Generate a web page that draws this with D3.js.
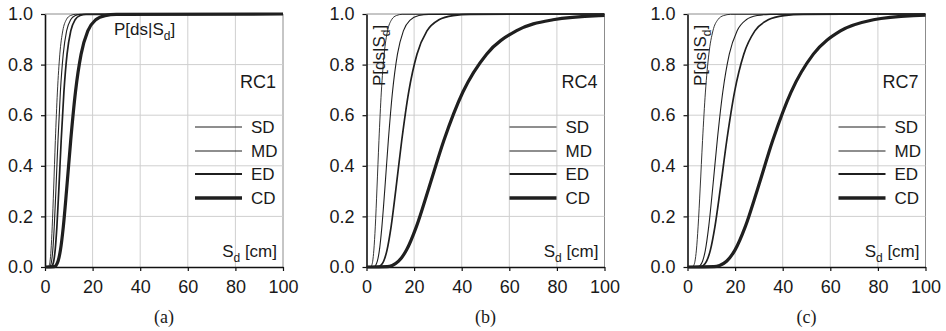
<!DOCTYPE html>
<html>
<head>
<meta charset="utf-8">
<script src="https://cdn.jsdelivr.net/npm/d3@7"></script>
<style>
  body { margin: 0; background: #fff; }
  svg { display: block; }
  .tick text { font-family: "Liberation Sans", Arial, sans-serif; font-size: 18px; fill: #1a1a1a; }
  .lbl { font-family: "Liberation Sans", Arial, sans-serif; font-size: 17px; fill: #1a1a1a; }
  .cap { font-family: "Liberation Serif", "Times New Roman", serif; font-size: 18px; fill: #1a1a1a; }
</style>
</head>
<body>
<svg id="chart" width="946" height="331"></svg>
<script>
// probability levels shared by every curve, and the Sd [cm] read at each level
const levels = [0, 0.0013, 0.0062, 0.0228, 0.0668, 0.1587, 0.3085, 0.5, 0.6915, 0.8413, 0.9332, 0.9772, 0.9938, 0.9987, 1];

const damageStates = ["SD", "MD", "ED", "CD"];
const panelNames = ["RC1", "RC4", "RC7"];
const panelCaptions = ["(a)", "(b)", "(c)"];
const xTicks = [0, 20, 40, 60, 80, 100];
const yTicks = [0, 0.2, 0.4, 0.6, 0.8, 1.0];

const rc1 = [
    [0, 1.48, 1.77, 2.12, 2.53, 3.03, 3.63, 4.35, 5.21, 6.23, 7.46, 8.94, 10.70, 12.81, 100],
    [0, 1.97, 2.33, 2.76, 3.27, 3.88, 4.60, 5.45, 6.46, 7.66, 9.08, 10.76, 12.75, 15.11, 100],
    [0, 2.68, 3.13, 3.66, 4.27, 4.99, 5.82, 6.80, 7.94, 9.27, 10.83, 12.64, 14.76, 17.23, 100],
    [0, 3.89, 4.62, 5.47, 6.49, 7.69, 9.11, 10.80, 12.80, 15.17, 17.99, 21.32, 25.27, 29.95, 100]
];
const rc4 = [
    [0, 1.83, 2.18, 2.60, 3.09, 3.69, 4.39, 5.23, 6.23, 7.42, 8.84, 10.53, 12.55, 14.95, 100],
    [0, 3.21, 3.82, 4.55, 5.43, 6.46, 7.70, 9.17, 10.92, 13.01, 15.50, 18.47, 22.00, 26.20, 100],
    [0, 5.03, 6.02, 7.20, 8.62, 10.33, 12.36, 14.80, 17.72, 21.21, 25.40, 30.41, 36.40, 43.58, 100],
    [0, 8.68, 10.82, 13.48, 16.80, 20.93, 26.08, 32.50, 40.50, 50.46, 62.88, 78.35, 97.64, 121.7, 160]
];
const rc7 = [
    [0, 2.21, 2.63, 3.14, 3.74, 4.45, 5.31, 6.32, 7.53, 8.97, 10.68, 12.73, 15.16, 18.06, 100],
    [0, 4.51, 5.34, 6.33, 7.51, 8.90, 10.55, 12.50, 14.82, 17.56, 20.82, 24.67, 29.25, 34.67, 100],
    [0, 5.60, 6.71, 8.03, 9.61, 11.51, 13.78, 16.50, 19.75, 23.65, 28.31, 33.90, 40.58, 48.59, 100],
    [0, 11.11, 13.50, 16.41, 19.94, 24.24, 29.46, 35.80, 43.51, 52.88, 64.26, 78.10, 94.91, 115.3, 160]
];
const panelData = [rc1, rc4, rc7];

// styling
const curveWidths = [0.9, 1.1, 1.7, 3.2];
const legendWidths = [1, 1.1, 2, 3.6];
const ink = "#1f1f1f";

const size = { w: 238, h: 253, top: 14 };
const panelLeft = [45, 366.5, 687.5];
const legendX = [150, 143, 151];
const legendY = [127, 151, 174, 198];

const svg = d3.select("#chart");

const x = d3.scaleLinear().domain([0, 100]).range([0, size.w]);
const y = d3.scaleLinear().domain([0, 1]).range([size.h, 0]);

const line = d3.line()
    .x(d => x(d[0]))
    .y(d => y(d[1]))
    .curve(d3.curveMonotoneX);

panelData.forEach((curves, i) => {
    const g = svg.append("g").attr("transform", `translate(${panelLeft[i]},${size.top})`);

    const clipId = "clip" + i;
    g.append("clipPath").attr("id", clipId)
        .append("rect").attr("x", 0).attr("y", -6).attr("width", size.w).attr("height", size.h + 12);

    // grid
    g.append("g").selectAll("line")
        .data(xTicks.slice(1))
        .join("line")
        .attr("x1", d => x(d)).attr("x2", d => x(d))
        .attr("y1", 0).attr("y2", size.h)
        .attr("stroke", d => d === 100 ? "#8c8c8c" : "#cfcfcf")
        .attr("stroke-width", 1);
    g.append("g").selectAll("line")
        .data(yTicks.slice(1))
        .join("line")
        .attr("x1", 0).attr("x2", size.w)
        .attr("y1", d => y(d)).attr("y2", d => y(d))
        .attr("stroke", d => d === 1 ? "#8c8c8c" : "#cfcfcf")
        .attr("stroke-width", 1);

    // axes
    const xAxis = g.append("g")
        .attr("transform", `translate(0,${size.h})`)
        .call(d3.axisBottom(x).tickValues(xTicks).tickFormat(d3.format("d"))
            .tickSize(4).tickSizeOuter(0).tickPadding(9));
    const yAxis = g.append("g")
        .call(d3.axisLeft(y).tickValues(yTicks).tickFormat(d3.format(".1f"))
            .tickSize(4).tickSizeOuter(0).tickPadding(8));
    [xAxis, yAxis].forEach(a => {
        a.select(".domain").attr("stroke", "#111").attr("stroke-width", 1.6);
        a.selectAll(".tick line").attr("stroke", "#111").attr("stroke-width", 1.2);
    });

    // curves
    g.append("g").attr("clip-path", `url(#${clipId})`)
        .selectAll("path")
        .data(curves)
        .join("path")
        .attr("d", sd => line(sd.map((v, k) => [v, levels[k]])))
        .attr("fill", "none")
        .attr("stroke", ink)
        .attr("stroke-width", (d, k) => curveWidths[k]);

    // legend
    const leg = g.append("g").selectAll("g")
        .data(damageStates)
        .join("g")
        .attr("transform", (d, k) => `translate(${legendX[i]},${legendY[k] - size.top})`);
    leg.append("line")
        .attr("x1", 0).attr("x2", 47)
        .attr("stroke", ink)
        .attr("stroke-width", (d, k) => legendWidths[k]);
    leg.append("text")
        .attr("class", "lbl")
        .attr("x", 56).attr("dy", "0.36em")
        .text(d => d);

    // panel name
    g.append("text").attr("class", "lbl")
        .attr("font-size", 18)
        .style("font-size", "18px")
        .attr("x", size.w - 7).attr("y", 88 - size.top)
        .attr("text-anchor", "end")
        .text(panelNames[i]);

    // x label
    const xl = g.append("text").attr("class", "lbl")
        .attr("x", size.w - 6).attr("y", 257 - size.top)
        .attr("text-anchor", "end");
    xl.append("tspan").text("S");
    xl.append("tspan").attr("font-size", 12).attr("dy", 5).text("d");
    xl.append("tspan").attr("dy", -5).text(" [cm]");

    // y label
    const yl = g.append("text").attr("class", "lbl");
    if (i === 0) {
        yl.attr("x", 114 - panelLeft[0]).attr("y", 35 - size.top);
    } else {
        yl.attr("transform", `translate(18,${86 - size.top}) rotate(-90)`);
    }
    yl.append("tspan").text("P[ds|S");
    yl.append("tspan").attr("font-size", 12).attr("dy", 5).text("d");
    yl.append("tspan").attr("dy", -5).text("]");

    // caption
    g.append("text").attr("class", "cap")
        .attr("x", size.w / 2).attr("y", 323 - size.top)
        .attr("text-anchor", "middle")
        .text(panelCaptions[i]);
});
</script>
</body>
</html>
